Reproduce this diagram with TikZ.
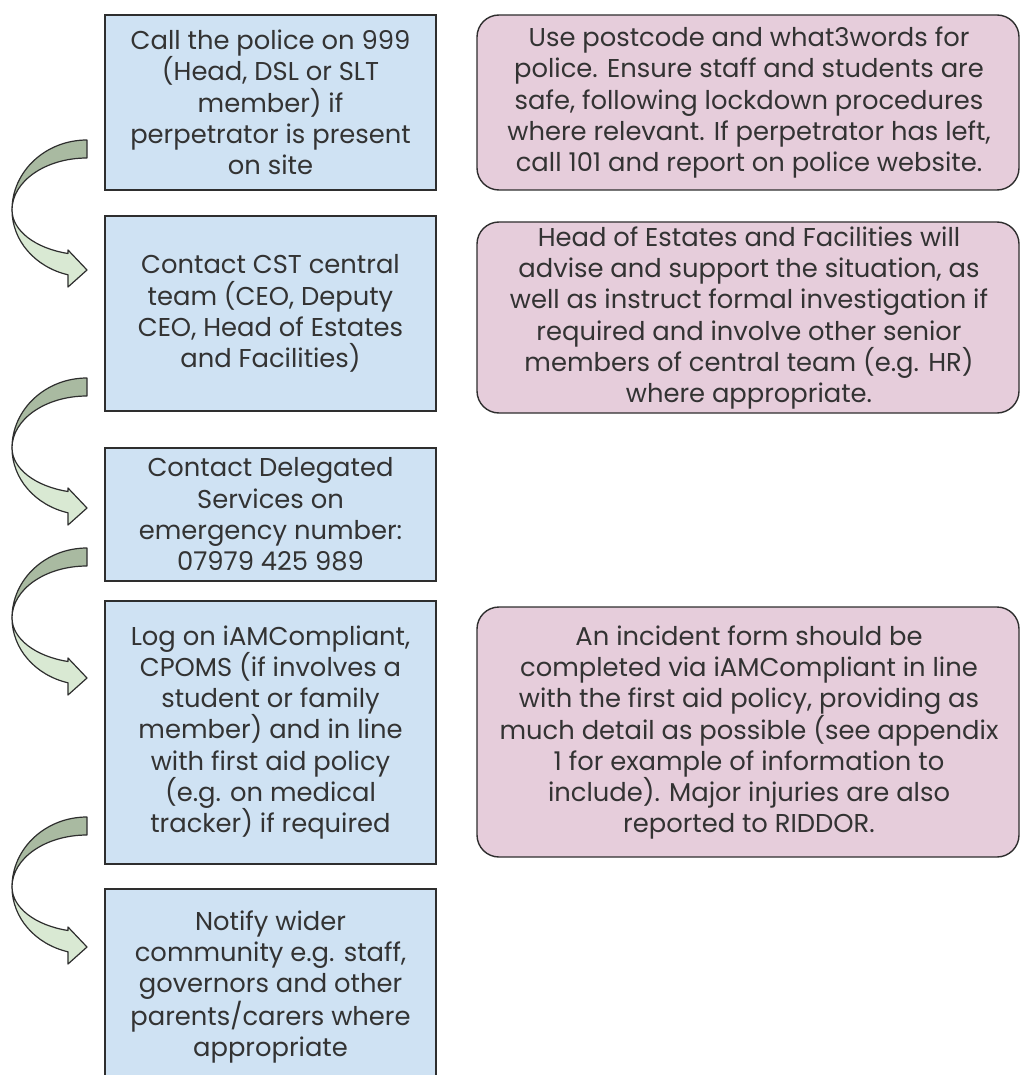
\documentclass[tikz,border=0pt]{standalone}
\usepackage{fontspec}
\setmainfont{Poppins}
\definecolor{bluefill}{HTML}{CFE2F3}
\definecolor{pinkfill}{HTML}{E6CDDB}
\definecolor{darkgreen}{HTML}{A9BAA1}
\definecolor{lightgreen}{HTML}{D9E9D3}
\definecolor{edge}{HTML}{2E2E2E}
\definecolor{txt}{HTML}{333333}
\newcommand\curvarrow[2]{%
  \begin{scope}[shift={(0,#2)}]
    \draw[backband] (87,140) arc[start angle=-90, end angle=-180, x radius=75, y radius=70]
      arc[start angle=180, end angle=270, x radius=75, y radius=52] -- cycle;
    \draw[frontband] (12,210) arc[start angle=180, end angle=104.7, x radius=75, y radius=67]
      -- (68,287) -- (87,270) -- (68,250) -- (68,253.5)
      arc[start angle=104.7, end angle=180, x radius=75, y radius=45] -- cycle;
    \coordinate (#1) at (87,270);
  \end{scope}}
\begin{document}
\begin{tikzpicture}[x=0.5pt,y=-0.5pt,
  txtstyle/.style={text=txt, align=center, font=\fontsize{12.9}{15.6}\selectfont},
  stepbox/.style={draw=edge, line width=0.7pt, fill=bluefill, minimum width=165.5pt, inner sep=0pt, txtstyle},
  notebox/.style={draw=edge, line width=0.7pt, fill=pinkfill, rounded corners=11pt, minimum width=271pt, inner sep=0pt},
  backband/.style={fill=darkgreen, draw=edge, line width=0.6pt, line join=round},
  frontband/.style={fill=lightgreen, draw=edge, line width=0.6pt, line join=round}]
\useasboundingbox (0,0) rectangle (1021,1075);
\clip (0,0) rectangle (1021,1075);

\node[stepbox, minimum height=87.5pt] (s1) at (270.5,102.5) {Call the police on 999\\(Head, DSL or SLT\\member) if\\perpetrator is present\\on site};
\node[stepbox, minimum height=97.5pt] (s2) at (270.5,313.5) {Contact CST central\\team (CEO, Deputy\\CEO, Head of Estates\\and Facilities)};
\node[stepbox, minimum height=66.5pt] (s3) at (270.5,514.5) {Contact Delegated\\Services on\\emergency number:\\07979 425 989};
\node[stepbox, minimum height=131.5pt] (s4) at (270.5,732.5) {Log on iAMCompliant,\\CPOMS (if involves a\\student or family\\member) and in line\\with first aid policy\\(e.g. on medical\\tracker) if required};
\node[stepbox, minimum height=98pt] (s5) at (270.5,987) {Notify wider\\community e.g. staff,\\governors and other\\parents/carers where\\appropriate};

\node[notebox, minimum height=87.5pt] (p1box) at (748,102.5) {};
\node[notebox, minimum height=95.5pt] (p2box) at (748,317.5) {};
\node[notebox, minimum height=125pt] (p3box) at (748,732) {};
\node[txtstyle] (p1) at (749,102.5) {Use postcode and what3words for\\police. Ensure staff and students are\\safe, following lockdown procedures\\where relevant. If perpetrator has left,\\call 101 and report on police website.};
\node[txtstyle] (p2) at (749,318) {Head of Estates and Facilities will\\advise and support the situation, as\\well as instruct formal investigation if\\required and involve other senior\\members of central team (e.g. HR)\\where appropriate.};
\node[txtstyle] (p3) at (749,732.5) {An incident form should be\\completed via iAMCompliant in line\\with the first aid policy, providing as\\much detail as possible (see appendix\\1 for example of information to\\include). Major injuries are also\\reported to RIDDOR.};

\curvarrow{a1}{0}
\curvarrow{a2}{238}
\curvarrow{a3}{408}
\curvarrow{a4}{677}
\end{tikzpicture}
\end{document}
